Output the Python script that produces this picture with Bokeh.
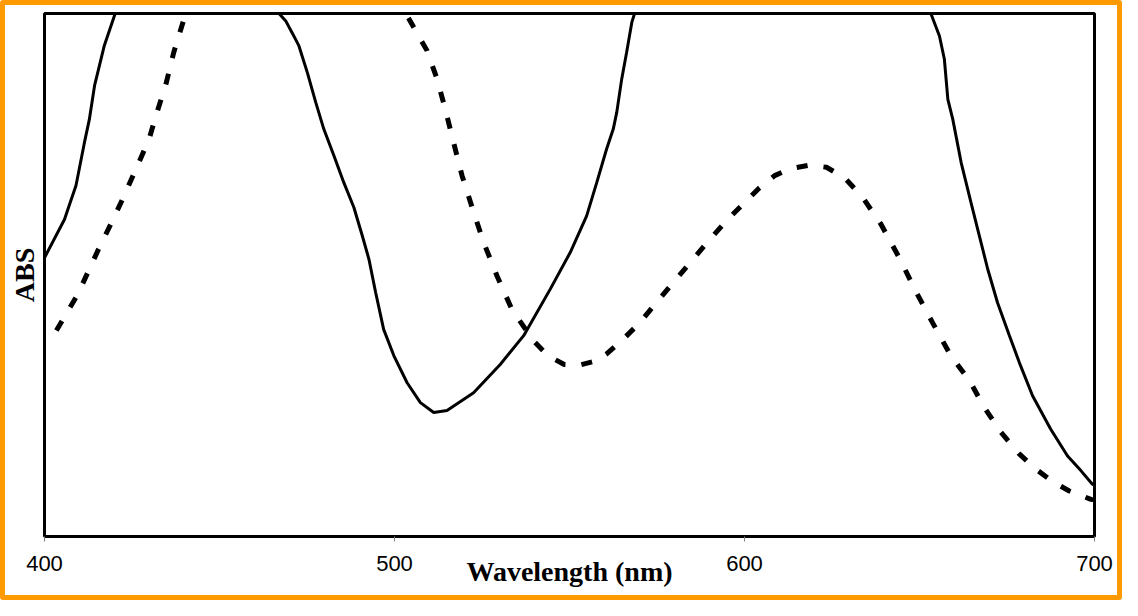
from bokeh.plotting import figure
from bokeh.models import FixedTicker, Range1d
from bokeh.layouts import column
from bokeh.embed import file_html
from bokeh.resources import INLINE

# Solid spectrum (wavelength nm, absorbance, arbitrary units; values > 1 are off-scale)
solid_nm = [400, 405.7, 409.0, 411.4, 412.8, 414.3, 417.1, 420, 423, 430, 445, 458, 462, 465,
            467, 469, 471, 472.7, 475.1, 477.5, 479.8, 482.7, 485.5, 488.4, 490.8, 492.7,
            494.6, 496.9, 499.8, 503.6, 507.4, 511.2, 515.0, 522.6, 530.2, 536.9, 544.5,
            550.2, 554.9, 557.8, 560.6, 562.5, 563.5, 564.9, 566.3, 567.8, 570, 580, 610,
            640, 650, 653.3, 655.7, 657.1, 658.1, 659.5, 661.9, 664.7, 667.1, 669.5, 672.3,
            675.7, 678.5, 682.3, 687.5, 692.3, 696.1, 699.4, 700]
solid_abs = [0.533, 0.606, 0.671, 0.753, 0.797, 0.862, 0.939, 0.996, 1.06, 1.2, 1.35, 1.15,
             1.06, 1.02, 1.0, 0.985, 0.96, 0.938, 0.887, 0.830, 0.779, 0.728, 0.677, 0.629,
             0.575, 0.530, 0.467, 0.396, 0.346, 0.294, 0.256, 0.237, 0.241, 0.275, 0.329,
             0.384, 0.473, 0.543, 0.613, 0.677, 0.741, 0.779, 0.811, 0.874, 0.925, 0.983,
             1.03, 1.2, 1.4, 1.2, 1.06, 0.999, 0.957, 0.913, 0.836, 0.798, 0.715, 0.639,
             0.575, 0.511, 0.447, 0.384, 0.333, 0.269, 0.205, 0.154, 0.126, 0.100, 0.098]

# Dashed spectrum
dash_nm = [403.4, 409.5, 415.2, 419.5, 422.3, 426.1, 429.9, 431.8, 434.7, 436.9, 439.7, 443,
           455, 470, 490, 500, 503.6, 509.3, 512.2, 514.5, 516.9, 519.3, 522.6, 525.5, 529.3,
           533.5, 539.7, 544, 548.5, 553, 557.8, 560.6, 565, 570.1, 575, 580.1, 585, 590.1,
           595, 600.1, 604, 608.6, 613, 618.6, 623.4, 628.6, 633.8, 639.0, 644.3, 649.0,
           653.8, 659.0, 664.3, 668.5, 673.3, 678.5, 683.2, 688.5, 692.8, 699, 700]
dash_abs = [0.394, 0.463, 0.546, 0.605, 0.645, 0.702, 0.760, 0.804, 0.865, 0.925, 0.986, 1.05,
            1.25, 1.35, 1.2, 1.06, 0.996, 0.929, 0.874, 0.817, 0.753, 0.690, 0.620, 0.562,
            0.498, 0.435, 0.374, 0.345, 0.329, 0.328, 0.336, 0.349, 0.375, 0.409, 0.449,
            0.489, 0.528, 0.568, 0.605, 0.639, 0.665, 0.690, 0.703, 0.710, 0.706, 0.686,
            0.648, 0.597, 0.532, 0.468, 0.408, 0.345, 0.298, 0.247, 0.199, 0.158, 0.129,
            0.103, 0.087, 0.071, 0.070]

x_ticks = [400, 500, 600, 700]

p = figure(width=1112, height=590, output_backend="svg", toolbar_location=None,
           x_range=Range1d(400, 700), y_range=Range1d(0, 1),
           min_border_left=37, min_border_right=23, min_border_top=8, min_border_bottom=59,
           background_fill_color="white", border_fill_color="white")

p.outline_line_color = "black"
p.outline_line_width = 3
p.grid.visible = False

p.line(solid_nm, solid_abs, line_color="black", line_width=3)
p.line(dash_nm, dash_abs, line_color="black", line_width=5, line_dash="11 16")

xa = p.xaxis[0]
xa.ticker = FixedTicker(ticks=x_ticks)
xa.axis_line_color = None
xa.major_tick_in = 0
xa.major_tick_out = 5
xa.major_tick_line_color = "#808080"
xa.major_tick_line_width = 1
xa.minor_tick_line_color = None
xa.major_label_text_font = "Liberation Sans"
xa.major_label_text_font_size = "22px"
xa.major_label_text_color = "black"
xa.major_label_standoff = 14
xa.axis_label = "Wavelength (nm)"
xa.axis_label_text_font = "Liberation Serif"
xa.axis_label_text_font_style = "bold"
xa.axis_label_text_font_size = "28px"
xa.axis_label_text_color = "black"
xa.axis_label_standoff = -18

ya = p.yaxis[0]
ya.ticker = FixedTicker(ticks=[])
ya.axis_line_color = None
ya.major_tick_in = 0
ya.major_tick_out = 0
ya.minor_tick_line_color = None
ya.major_label_standoff = 0
ya.axis_label = "ABS"
ya.axis_label_text_font = "Liberation Serif"
ya.axis_label_text_font_style = "bold"
ya.axis_label_text_font_size = "28px"
ya.axis_label_text_color = "black"
ya.axis_label_standoff = 5

layout = column(p, styles={"border": "5px solid #FF9900", "border-radius": "3px",
                           "background-color": "white"})

open("out.html", "w").write(file_html(layout, INLINE))
